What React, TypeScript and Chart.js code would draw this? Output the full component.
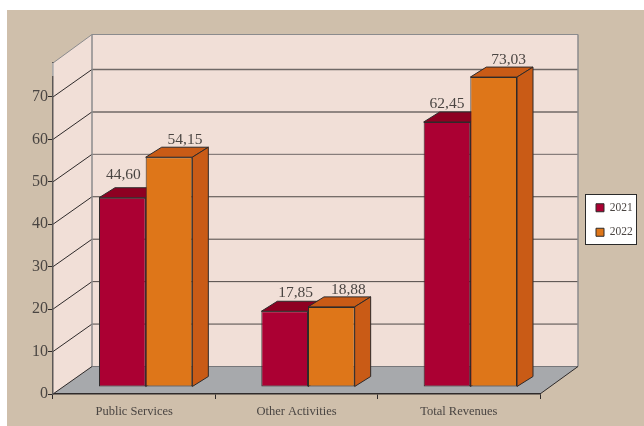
import React, { useEffect, useRef } from "react";
import { Chart, registerables } from "chart.js";

Chart.register(...registerables);

const categories = ["Public Services", "Other Activities", "Total Revenues"];
const seriesNames = ["2021", "2022"];
const values2021 = [44.6, 17.85, 62.45];
const values2022 = [54.15, 18.88, 73.03];
const yTicksMax = 78;

const FONT = '"Liberation Serif", serif';
const TEXT = "#4a4542";
const LINE = "#2e2a2a";
const PANEL = "#cfbfab";
const WALL = "#f1dfd7";
const FLOOR = "#a7a9ac";
const WALL_EDGE = "#8b8b8d";
const FRONT = ["#ab0033", "#de7619"];
const TOP = ["#8e0022", "#c95b16"];
const SIDE = ["#8e0022", "#c95b16"];

// Projection of the pseudo-3D box
const WALL_DX = 39;
const WALL_DY = -27.5;
const BAR_DX = 16;
const BAR_DY = -10;
const BAR_SHIFT_X = 11.5;
const BAR_SHIFT_Y = -7;
const LABEL_SHIFT_X = [
  [1, 11, 0],
  [16, 17, 15],
];
const LABEL_GAP = [
  [9, 4, 4],
  [3, 3, 3],
];

function poly(ctx: CanvasRenderingContext2D, pts: number[][], fill?: string, stroke?: string, lw = 1) {
  ctx.beginPath();
  pts.forEach((p, i) => (i ? ctx.lineTo(p[0], p[1]) : ctx.moveTo(p[0], p[1])));
  ctx.closePath();
  if (fill) {
    ctx.fillStyle = fill;
    ctx.fill();
  }
  if (stroke) {
    ctx.strokeStyle = stroke;
    ctx.lineWidth = lw;
    ctx.stroke();
  }
}

function seg(ctx: CanvasRenderingContext2D, x1: number, y1: number, x2: number, y2: number, color: string, lw = 1) {
  ctx.beginPath();
  ctx.moveTo(x1, y1);
  ctx.lineTo(x2, y2);
  ctx.strokeStyle = color;
  ctx.lineWidth = lw;
  ctx.stroke();
}

const scenePlugin = {
  id: "scene",
  afterLayout(chart: any) {
    const lg = chart.legend;
    if (lg) {
      const w = lg.right - lg.left;
      const h = lg.bottom - lg.top;
      lg.left = 583;
      lg.right = 583 + w;
      lg.top = 189;
      lg.bottom = 189 + h;
    }
  },
  beforeDraw(chart: any) {
    const { ctx, chartArea: a, scales } = chart;
    const y = scales.y;
    ctx.save();
    ctx.fillStyle = "#ffffff";
    ctx.fillRect(0, 0, chart.width, chart.height);
    ctx.fillStyle = PANEL;
    ctx.fillRect(7, 10, chart.width - 7, chart.height - 10);

    const bx = a.left + WALL_DX;
    const brx = a.right + WALL_DX - 1;
    const y0 = y.getPixelForValue(0);
    const yTop = a.top;

    // back wall, left wall, floor
    poly(ctx, [[bx, yTop + WALL_DY - 1], [brx, yTop + WALL_DY - 1], [brx, y0 + WALL_DY], [bx, y0 + WALL_DY]], WALL);
    poly(ctx, [[a.left, y0], [bx, y0 + WALL_DY], [bx, yTop + WALL_DY - 1], [a.left, yTop]], WALL);
    poly(ctx, [[a.left, y0], [bx, y0 + WALL_DY], [brx, y0 + WALL_DY], [a.right, y0]], FLOOR);

    // grid lines across both walls, placed by the value scale
    y.ticks.forEach((t: any) => {
      if (t.value === 0) return;
      const py = y.getPixelForValue(t.value);
      seg(ctx, a.left, py, bx, py + WALL_DY, LINE, 1);
      seg(ctx, bx, py + WALL_DY, brx, py + WALL_DY, t.value >= 50 ? "#6f6866" : "#4d4745", t.value >= 60 ? 1.5 : 1);
    });

    // wall edges
    seg(ctx, a.left, yTop, bx, yTop + WALL_DY - 1, WALL_EDGE, 1);
    seg(ctx, bx, yTop + WALL_DY - 1, brx, yTop + WALL_DY - 1, WALL_EDGE, 1.2);
    seg(ctx, bx, yTop + WALL_DY - 1, bx, y0 + WALL_DY, WALL_EDGE, 1.5);
    seg(ctx, brx, yTop + WALL_DY - 1, brx, y0 + WALL_DY, WALL_EDGE, 1.5);
    seg(ctx, bx, y0 + WALL_DY, brx, y0 + WALL_DY, "#77777a", 1);
    seg(ctx, a.left, y0, bx, y0 + WALL_DY, LINE, 1);
    seg(ctx, a.right, y0, brx, y0 + WALL_DY, LINE, 1);

    // legend box
    ctx.fillStyle = "#ffffff";
    ctx.fillRect(585.5, 194.5, 51, 50);
    ctx.strokeStyle = "#2a2a2a";
    ctx.lineWidth = 1;
    ctx.strokeRect(585.5, 194.5, 51, 50);
    ctx.restore();
  },
  afterDraw(chart: any) {
    const { ctx, chartArea: a } = chart;
    ctx.save();
    // lighter tip of the value axis above the last tick
    seg(ctx, a.left, a.top, a.left, a.top + 13, "#c9c6c4", 1.5);
    ctx.restore();
  },
  beforeDatasetsDraw(chart: any) {
    const { ctx } = chart;
    ctx.save();
    ctx.translate(BAR_SHIFT_X, BAR_SHIFT_Y);
    chart.data.datasets.forEach((_: any, di: number) => {
      chart.getDatasetMeta(di).data.forEach((bar: any) => {
        const l = bar.x - bar.width / 2;
        const r = bar.x + bar.width / 2;
        const t = bar.y;
        const b = bar.base;
        poly(ctx, [[l, t], [l + BAR_DX, t + BAR_DY], [r + BAR_DX, t + BAR_DY], [r, t]], TOP[di], LINE, 1);
        poly(ctx, [[r, t], [r + BAR_DX, t + BAR_DY], [r + BAR_DX, b + BAR_DY], [r, b]], SIDE[di], LINE, 1);
      });
    });
  },
  afterDatasetsDraw(chart: any) {
    const { ctx } = chart;
    chart.data.datasets.forEach((ds: any, di: number) => {
      chart.getDatasetMeta(di).data.forEach((bar: any, i: number) => {
        ctx.font = `15.5px ${FONT}`;
        ctx.fillStyle = TEXT;
        ctx.textAlign = "center";
        ctx.textBaseline = "alphabetic";
        const label = ds.data[i].toFixed(2).replace(".", ",");
        ctx.fillText(label, bar.x + LABEL_SHIFT_X[di][i], bar.y + BAR_DY - LABEL_GAP[di][i]);
      });
    });
    ctx.restore();
  },
};

export default function App() {
  const ref = useRef<HTMLCanvasElement | null>(null);
  useEffect(() => {
    if (!ref.current) return;
    const chart = new Chart(ref.current, {
      type: "bar",
      data: {
        labels: categories,
        datasets: [
          {
            label: seriesNames[0],
            data: values2021,
            backgroundColor: FRONT[0],
            borderColor: LINE,
            borderWidth: 1,
            borderSkipped: false,
            clip: false,
          },
          {
            label: seriesNames[1],
            data: values2022,
            backgroundColor: FRONT[1],
            borderColor: LINE,
            borderWidth: 1,
            borderSkipped: false,
            clip: false,
          },
        ],
      } as any,
      options: {
        responsive: false,
        animation: false,
        devicePixelRatio: 1,
        layout: { padding: { left: 0, right: 104, top: 63, bottom: 0 } },
        datasets: { bar: { categoryPercentage: 0.575, barPercentage: 1 } },
        plugins: {
          tooltip: { enabled: false },
          title: { display: false },
          legend: {
            display: true,
            position: "chartArea",
            align: "start",
            labels: {
              boxWidth: 8,
              boxHeight: 8,
              padding: 13,
              color: TEXT,
              font: { family: FONT, size: 11.5 },
            },
          },
        },
        scales: {
          x: {
            afterFit: (s: any) => {
              s.height = 32;
            },
            grid: { drawOnChartArea: false, tickLength: 5, tickColor: LINE, color: LINE, offset: true },
            border: { color: LINE, width: 1.5 },
            ticks: {
              color: TEXT,
              font: { family: FONT, size: 12.5 },
              padding: 5,
              maxRotation: 0,
            },
          },
          y: {
            min: 0,
            max: yTicksMax,
            afterFit: (s: any) => {
              s.width = 53;
            },
            grid: { drawOnChartArea: false, tickLength: 5, tickColor: LINE, color: LINE },
            border: { color: "#5c5856", width: 1.5 },
            ticks: {
              stepSize: 10,
              includeBounds: false,
              color: TEXT,
              font: { family: FONT, size: 16 },
              padding: 0,
            },
          },
        },
      } as any,
      plugins: [scenePlugin as any],
    });
    return () => chart.destroy();
  }, []);
  return (
    <div style={{ position: "fixed", left: 0, top: 0, width: 644, height: 426 }}>
      <canvas ref={ref} width={644} height={426} style={{ display: "block" }} />
    </div>
  );
}
